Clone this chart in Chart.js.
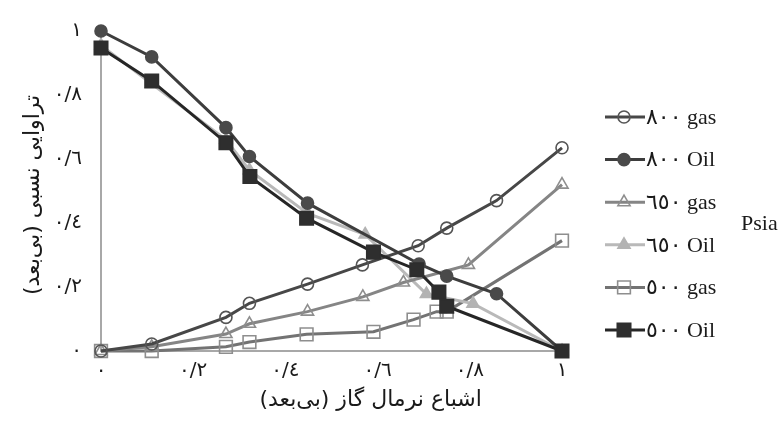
<!DOCTYPE html>
<html>
<head>
<meta charset="utf-8">
<script src="https://cdn.jsdelivr.net/npm/chart.js@4.4.1/dist/chart.umd.min.js"></script>
<style>
  html, body { margin: 0; padding: 0; background: #ffffff; }
  #wrap { width: 783px; height: 428px; }
</style>
</head>
<body>
<div id="wrap"><canvas id="c" width="783" height="428"></canvas></div>
<script>
// ---- data ----
const tickLabels = ['٠', '٠/٢', '٠/٤', '٠/٦', '٠/٨', '١'];
const xTitle = 'اشباع نرمال گاز (بی‌بعد)';
const yTitle = 'تراوایی نسبی (بی‌بعد)';
const unitLabel = 'Psia';
const seriesNames = ['٨٠٠ gas', '٨٠٠ Oil', '٦٥٠ gas', '٦٥٠ Oil', '٥٠٠ gas', '٥٠٠ Oil'];

const gas800X = [0, 0.11, 0.271, 0.322, 0.448, 0.567, 0.688, 0.75, 0.858, 1];
const gas800Y = [0, 0.022, 0.105, 0.149, 0.209, 0.269, 0.329, 0.384, 0.47, 0.635];

const oil800X = [0, 0.11, 0.271, 0.322, 0.448, 0.69, 0.75, 0.858, 1];
const oil800Y = [1.0, 0.919, 0.698, 0.608, 0.462, 0.272, 0.234, 0.179, 0];

const gas650X = [0, 0.11, 0.271, 0.322, 0.448, 0.568, 0.656, 0.797, 1];
const gas650Y = [0, 0.013, 0.053, 0.085, 0.123, 0.169, 0.214, 0.269, 0.52];

const oil650X = [0, 0.11, 0.271, 0.322, 0.448, 0.573, 0.706, 0.807, 1];
const oil650Y = [0.955, 0.835, 0.66, 0.565, 0.43, 0.364, 0.178, 0.148, 0];

const gas500X = [0, 0.11, 0.271, 0.322, 0.446, 0.591, 0.678, 0.728, 0.75, 1];
const gas500Y = [0, 0, 0.013, 0.028, 0.052, 0.06, 0.098, 0.123, 0.123, 0.345];

const oil500X = [0, 0.11, 0.271, 0.323, 0.446, 0.591, 0.685, 0.733, 0.75, 1];
const oil500Y = [0.947, 0.844, 0.651, 0.545, 0.415, 0.309, 0.254, 0.184, 0.14, 0];

// ---- build ----
function pts(xs, ys) { return xs.map((x, i) => ({ x: x, y: ys[i] })); }

const styles = [
  { line: '#474747', point: 'circle',   r: 6,   fill: 'rgba(255,255,255,0)', stroke: '#555555', order: 3 },
  { line: '#3d3d3d', point: 'circle',   r: 6,   fill: '#4a4a4a', stroke: '#4a4a4a', order: 1 },
  { line: '#858585', point: 'triangle', r: 7,   fill: 'rgba(255,255,255,0)', stroke: '#8e8e8e', order: 4 },
  { line: '#b9b9b9', point: 'triangle', r: 7,   fill: '#b3b3b3', stroke: '#b3b3b3', order: 5 },
  { line: '#737373', point: 'rect',     r: 9,   fill: 'rgba(255,255,255,0)', stroke: '#8e8e8e', order: 6 },
  { line: '#262626', point: 'rect',     r: 9.5, fill: '#2e2e2e', stroke: '#2e2e2e', order: 0 }
];
const seriesData = [
  pts(gas800X, gas800Y), pts(oil800X, oil800Y),
  pts(gas650X, gas650Y), pts(oil650X, oil650Y),
  pts(gas500X, gas500Y), pts(oil500X, oil500Y)
];

const datasets = seriesNames.map((name, i) => ({
  label: name,
  data: seriesData[i],
  borderColor: styles[i].line,
  borderWidth: 3,
  pointStyle: styles[i].point,
  pointRadius: styles[i].r,
  pointBackgroundColor: styles[i].fill,
  pointBorderColor: styles[i].stroke,
  pointBorderWidth: 1.6,
  tension: 0,
  fill: false,
  clip: false,
  order: styles[i].order
}));

const digitFont = '"DejaVu Sans", sans-serif';
const serifFont = '"Liberation Serif", "DejaVu Sans", serif';

function drawMarker(ctx, style, x, y) {
  const r = style.r;
  ctx.save();
  ctx.lineWidth = 1.6;
  ctx.strokeStyle = style.stroke;
  ctx.fillStyle = style.fill;
  ctx.beginPath();
  if (style.point === 'circle') {
    ctx.arc(x, y, r, 0, Math.PI * 2);
  } else if (style.point === 'triangle') {
    for (let k = 0; k < 3; k++) {
      const a = -Math.PI / 2 + k * 2 * Math.PI / 3;
      const px = x + Math.cos(a) * r, py = y + Math.sin(a) * r;
      if (k === 0) ctx.moveTo(px, py); else ctx.lineTo(px, py);
    }
    ctx.closePath();
  } else {
    const s = Math.SQRT1_2 * r;
    ctx.rect(x - s, y - s, 2 * s, 2 * s);
  }
  ctx.fill();
  ctx.stroke();
  ctx.restore();
}

const decor = {
  id: 'decor',
  afterDraw(chart) {
    const ctx = chart.ctx;
    const area = chart.chartArea;
    ctx.save();
    // axis titles
    ctx.fillStyle = '#1a1a1a';
    ctx.font = '22px ' + digitFont;
    ctx.textAlign = 'center';
    ctx.textBaseline = 'middle';
    ctx.fillText('\u202B' + xTitle + '\u202C', area.left + (area.right - area.left) * 0.585, 400);
    ctx.save();
    ctx.translate(33, (area.top + area.bottom) / 2 + 4);
    ctx.rotate(-Math.PI / 2);
    ctx.fillText('\u202B' + yTitle + '\u202C', 0, 0);
    ctx.restore();

    // legend
    const legendY0 = 117, legendStep = 42.6;
    chart.data.datasets.forEach((ds, i) => {
      const y = legendY0 + i * legendStep;
      ctx.strokeStyle = ds.borderColor;
      ctx.lineWidth = 3;
      ctx.beginPath();
      ctx.moveTo(605, y);
      ctx.lineTo(645, y);
      ctx.stroke();
      drawMarker(ctx, styles[i], 624, y);
      ctx.fillStyle = '#1a1a1a';
      ctx.textAlign = 'left';
      ctx.textBaseline = 'middle';
      ctx.font = '22px ' + serifFont;
      ctx.fillText(ds.label, 646, y + 1);
    });
    ctx.font = '22px ' + serifFont;
    ctx.textAlign = 'left';
    ctx.fillText(unitLabel, 741, 224);
    ctx.restore();
  }
};

new Chart(document.getElementById('c'), {
  type: 'line',
  data: { datasets: datasets },
  plugins: [decor],
  options: {
    responsive: false,
    animation: false,
    devicePixelRatio: 1,
    layout: { padding: { left: 0, top: 19, right: 221, bottom: 0 } },
    plugins: { legend: { display: false }, tooltip: { enabled: false }, title: { display: false } },
    scales: {
      x: {
        type: 'linear', min: 0, max: 1,
        grid: { display: false, drawTicks: false },
        border: { display: true, color: '#a8a8a8', width: 2 },
        ticks: {
          stepSize: 0.2, padding: 8, color: '#1a1a1a', maxRotation: 0,
          font: { family: digitFont, size: 20 },
          callback: (v, i) => tickLabels[i]
        },
        afterFit(scale) { scale.height = 77; }
      },
      y: {
        type: 'linear', min: 0, max: 1,
        grid: { display: false, drawTicks: false },
        border: { display: true, color: '#a8a8a8', width: 2 },
        ticks: {
          stepSize: 0.2, padding: 19, color: '#1a1a1a',
          font: { family: digitFont, size: 20 },
          callback: (v, i) => tickLabels[i]
        },
        afterFit(scale) { scale.width = 101; }
      }
    }
  }
});
</script>
</body>
</html>
